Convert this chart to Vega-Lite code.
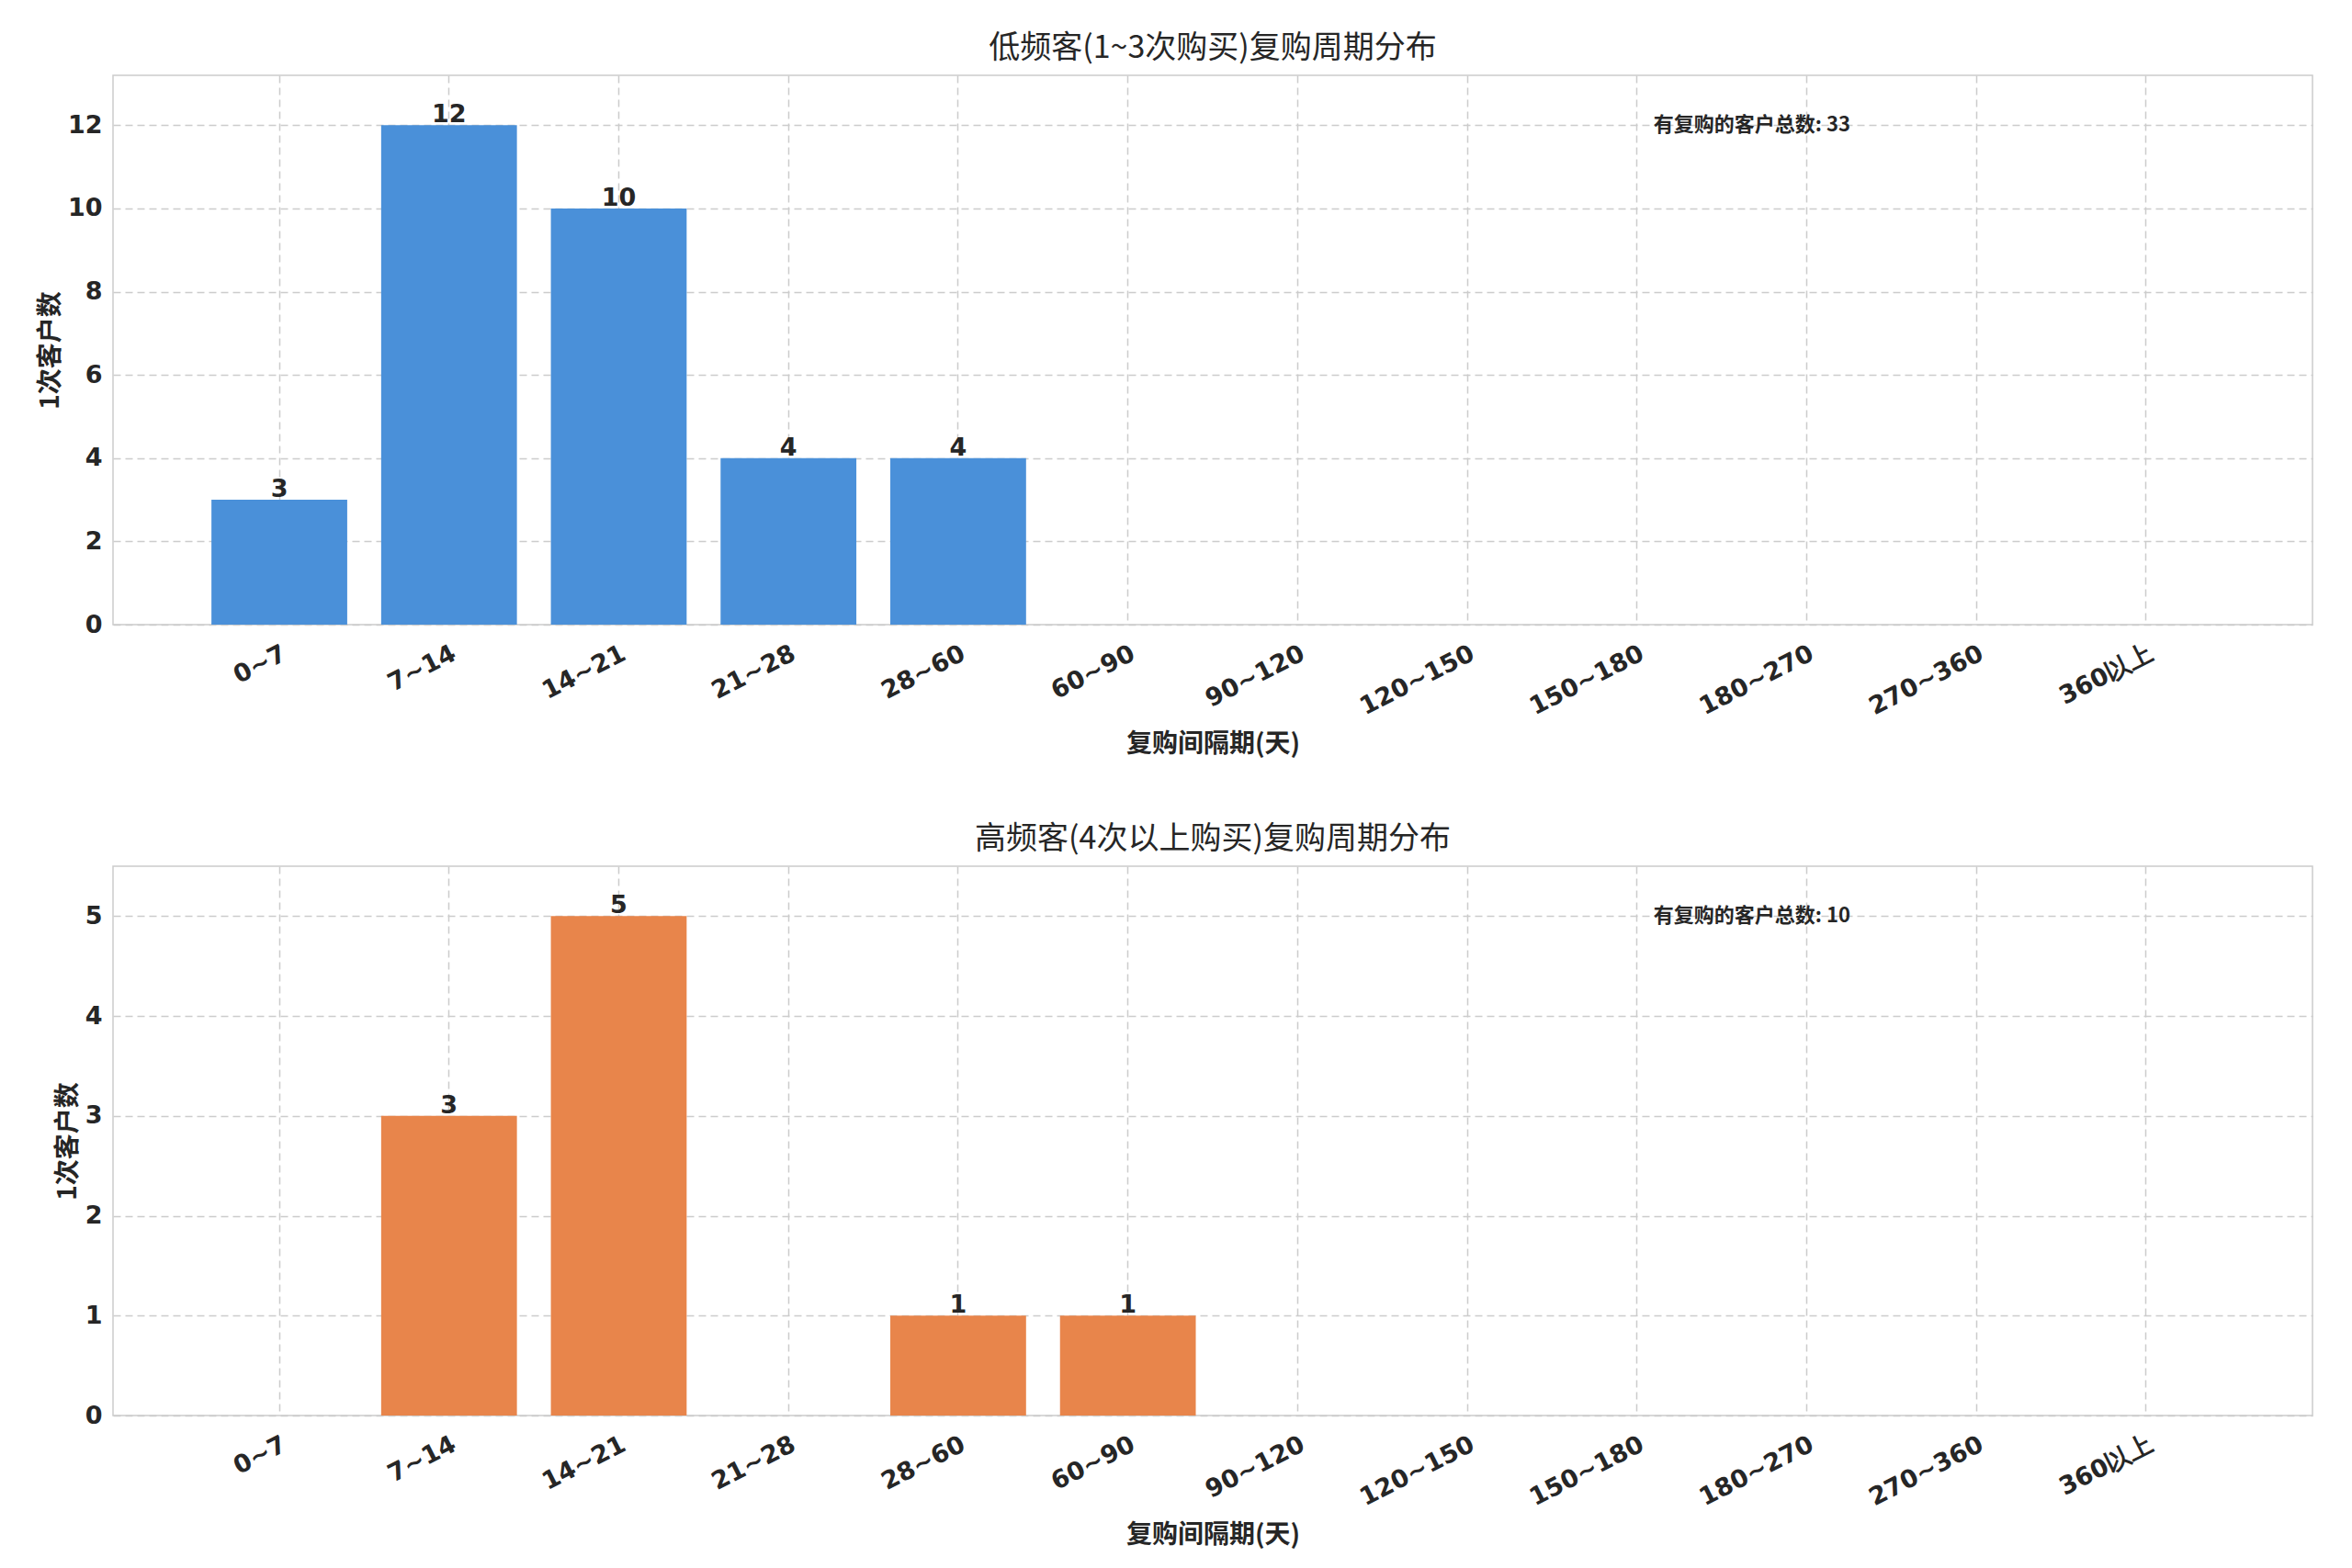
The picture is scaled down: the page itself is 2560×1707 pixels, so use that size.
{
"$schema":"https://vega.github.io/schema/vega-lite/v6.json",
"background":"white",
"padding":{"left":40,"top":35,"right":25,"bottom":10},
"spacing":70,
"config":{"font":"DejaVu Sans","view":{"stroke":"#cccccc","strokeWidth":1.5},
"axis":{"labelFont":"DejaVu Sans","labelFontWeight":"bold","labelFontSize":27,"labelColor":"#262626","titleFont":"Noto Sans CJK SC","titleFontWeight":"bold","titleFontSize":28,"titleColor":"#262626","grid":true,"gridColor":"#cccccc","gridDash":[8,5],"gridWidth":1.5,"domain":false,"ticks":false,"labelPadding":12},
"title":{"font":"Noto Sans CJK SC","fontSize":34,"fontWeight":"normal","color":"#262626","offset":12}},
"datasets":{
"low":[{"c":"0~7","n":3},{"c":"7~14","n":12},{"c":"14~21","n":10},{"c":"21~28","n":4},{"c":"28~60","n":4},{"c":"60~90","n":0},{"c":"90~120","n":0},{"c":"120~150","n":0},{"c":"150~180","n":0},{"c":"180~270","n":0},{"c":"270~360","n":0},{"c":"360以上","n":0}],
"high":[{"c":"0~7","n":0},{"c":"7~14","n":3},{"c":"14~21","n":5},{"c":"21~28","n":0},{"c":"28~60","n":1},{"c":"60~90","n":1},{"c":"90~120","n":0},{"c":"120~150","n":0},{"c":"150~180","n":0},{"c":"180~270","n":0},{"c":"270~360","n":0},{"c":"360以上","n":0}],
"noteLow":[{"c":"150~180","n":12,"t":"有复购的客户总数: 33"}],
"noteHigh":[{"c":"150~180","n":5,"t":"有复购的客户总数: 10"}]
},
"vconcat":[
{"title":"低频客(1~3次购买)复购周期分布","width":2394,"height":598,
"layer":[
{"data":{"name":"low"},"mark":{"type":"bar","color":"#4a90d9"},
"encoding":{"x":{"field":"c","type":"nominal","sort":null,"scale":{"paddingInner":0.2,"paddingOuter":0.58},"axis":{"labelAngle":-27,"labelPadding":18,"bandPosition":0.5,"title":"复购间隔期(天)","titlePadding":14},"title":"复购间隔期(天)"},
"y":{"field":"n","type":"quantitative","scale":{"domain":[0,13.2],"nice":false},"axis":{"values":[0,2,4,6,8,10,12],"format":"d","title":"1次客户数"}}}},
{"data":{"name":"low"},"transform":[{"filter":"datum.n>0"}],"mark":{"type":"text","baseline":"middle","dy":-11,"fontSize":27,"fontWeight":"bold","color":"#262626"},
"encoding":{"x":{"field":"c","type":"nominal","sort":null},"y":{"field":"n","type":"quantitative"},"text":{"field":"n"}}},
{"data":{"name":"noteLow"},"mark":{"type":"text","align":"left","baseline":"middle","dx":18,"font":"Noto Sans CJK SC","fontSize":22,"fontWeight":"bold","color":"#262626"},
"encoding":{"x":{"field":"c","type":"nominal","sort":null},"y":{"field":"n","type":"quantitative"},"text":{"field":"t"}}}
]},
{"title":"高频客(4次以上购买)复购周期分布","width":2394,"height":598,
"layer":[
{"data":{"name":"high"},"mark":{"type":"bar","color":"#e8854b"},
"encoding":{"x":{"field":"c","type":"nominal","sort":null,"scale":{"paddingInner":0.2,"paddingOuter":0.58},"axis":{"labelAngle":-27,"labelPadding":18,"bandPosition":0.5,"title":"复购间隔期(天)","titlePadding":14},"title":"复购间隔期(天)"},
"y":{"field":"n","type":"quantitative","scale":{"domain":[0,5.5],"nice":false},"axis":{"values":[0,1,2,3,4,5],"format":"d","title":"1次客户数"}}}},
{"data":{"name":"high"},"transform":[{"filter":"datum.n>0"}],"mark":{"type":"text","baseline":"middle","dy":-11,"fontSize":27,"fontWeight":"bold","color":"#262626"},
"encoding":{"x":{"field":"c","type":"nominal","sort":null},"y":{"field":"n","type":"quantitative"},"text":{"field":"n"}}},
{"data":{"name":"noteHigh"},"mark":{"type":"text","align":"left","baseline":"middle","dx":18,"font":"Noto Sans CJK SC","fontSize":22,"fontWeight":"bold","color":"#262626"},
"encoding":{"x":{"field":"c","type":"nominal","sort":null},"y":{"field":"n","type":"quantitative"},"text":{"field":"t"}}}
]}
]
}
